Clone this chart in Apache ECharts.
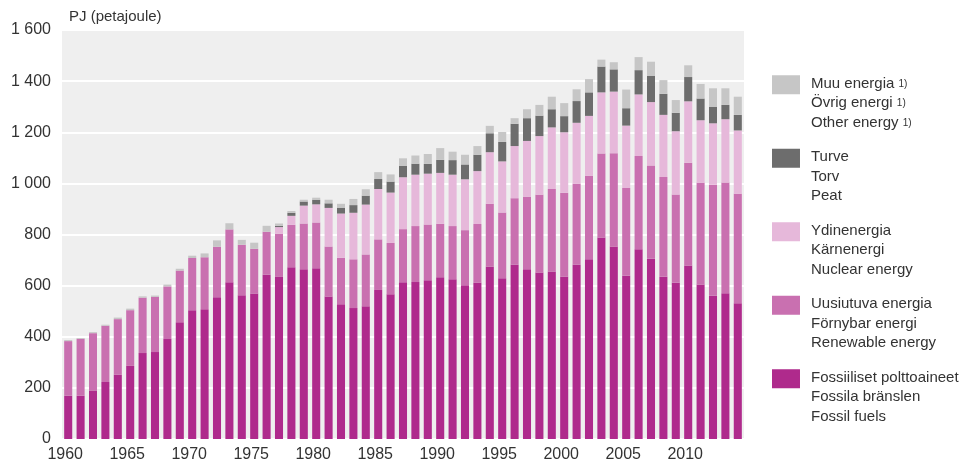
<!DOCTYPE html>
<html>
<head>
<meta charset="utf-8">
<title>Energian kokonaiskulutus</title>
<script src="https://cdn.jsdelivr.net/npm/echarts@6/dist/echarts.min.js"></script>
<style>
  html, body { margin: 0; padding: 0; background: #fff; }
  #chart { width: 962px; height: 463px; }
</style>
</head>
<body>
<div id="chart"></div>
<script>
// vuodet 1960-2014
var years = [];
for (var y = 1960; y <= 2014; y++) years.push(String(y));

// PJ, luettu kuvasta
var fossil = [169,169,188,223,251,286,336,340,391,457,
              504,508,555,613,562,569,644,634,672,664,
              668,557,527,512,519,583,566,613,614,621,
              633,625,601,611,675,629,683,664,651,655,
              636,683,703,788,753,639,742,705,635,611,
              679,604,560,570,531];
var renewable = [214,223,226,220,218,218,217,216,206,202,
                 204,203,197,207,198,175,167,169,166,179,
                 179,196,182,191,203,198,201,208,219,218,
                 209,208,216,230,245,257,259,284,305,323,
                 327,316,327,329,365,343,365,365,390,345,
                 402,398,435,433,428];
var nuclear = [0,0,0,0,0,0,0,0,0,0,
               0,0,0,0,0,0,0,26,35,70,
               71,151,173,182,195,197,197,203,201,199,
               199,201,199,207,202,200,204,218,229,241,
               237,238,234,239,241,244,241,248,243,248,
               240,245,240,248,248];
var peat = [0,0,0,0,0,0,0,0,0,0,
            0,0,0,0,0,0,0,5,12,16,
            18,18,23,30,35,39,43,45,43,38,
            51,57,58,64,74,76,87,89,80,71,
            63,85,92,101,87,68,95,102,82,72,
            95,85,65,56,61];
var other = [4,3,4,4,6,6,5,5,7,7,
             9,15,25,24,19,24,23,9,7,7,
             8,14,15,24,25,27,28,29,32,39,
             46,33,38,34,29,39,22,35,42,49,
             51,46,52,27,28,73,51,56,54,50,
             46,57,72,65,71];

var legendText = {
    'Muu energia': 'Muu energia {s|1)}\nÖvrig energi {s|1)}\nOther energy {s|1)}',
    'Turve': 'Turve\nTorv\nPeat',
    'Ydinenergia': 'Ydinenergia\nKärnenergi\nNuclear energy',
    'Uusiutuva energia': 'Uusiutuva energia\nFörnybar energi\nRenewable energy',
    'Fossiiliset polttoaineet': 'Fossiiliset polttoaineet\nFossila bränslen\nFossil fuels'
};

var font = 'Liberation Sans';
var myChart = echarts.init(document.getElementById('chart'));

function bar(name, data, color) {
    return {
        name: name,
        type: 'bar',
        stack: 'total',
        data: data,
        barCategoryGap: '35%',
        itemStyle: { color: color },
        emphasis: { disabled: true }
    };
}

myChart.setOption({
    animation: false,
    textStyle: { fontFamily: font },
    title: {
        text: 'PJ (petajoule)',
        left: 64,
        top: 4,
        textStyle: { fontSize: 15, fontWeight: 'normal', color: '#333', fontFamily: font }
    },
    grid: {
        left: 62,
        right: 218,
        top: 30,
        bottom: 22,
        show: true,
        backgroundColor: '#efefef',
        borderWidth: 0
    },
    legend: {
        orient: 'vertical',
        left: 767,
        top: 69,
        itemGap: 15,
        itemWidth: 34,
        itemHeight: 56,
        icon: 'path://M0,0h28v19h-28z M34,56h0.01v0.01h-0.01z',
        data: ['Muu energia', 'Turve', 'Ydinenergia', 'Uusiutuva energia', 'Fossiiliset polttoaineet'],
        formatter: function (name) { return legendText[name]; },
        textStyle: {
            fontSize: 15,
            lineHeight: 19.5,
            color: '#333',
            fontFamily: font,
            rich: {
                s: { fontSize: 10, lineHeight: 19.5, color: '#333', fontFamily: font }
            }
        }
    },
    xAxis: {
        type: 'category',
        data: years,
        axisLine: { show: false },
        axisTick: { show: false },
        axisLabel: {
            interval: 4,
            margin: 8,
            fontSize: 16,
            color: '#333',
            padding: [0, 6, 0, 0]
        }
    },
    yAxis: {
        type: 'value',
        min: 0,
        max: 1600,
        interval: 200,
        axisLine: { show: false },
        axisTick: { show: false },
        splitLine: { lineStyle: { color: '#ffffff', width: 2 } },
        axisLabel: {
            margin: 11,
            fontSize: 16,
            color: '#333',
            formatter: function (v) {
                if (v >= 1000) return Math.floor(v / 1000) + ' ' + String(v % 1000).padStart(3, '0');
                return String(v);
            }
        }
    },
    series: [
        bar('Fossiiliset polttoaineet', fossil, '#af2a8c'),
        bar('Uusiutuva energia', renewable, '#c970b0'),
        bar('Ydinenergia', nuclear, '#e6b8da'),
        bar('Turve', peat, '#6d6d6d'),
        bar('Muu energia', other, '#c6c6c6')
    ]
});
</script>
</body>
</html>
